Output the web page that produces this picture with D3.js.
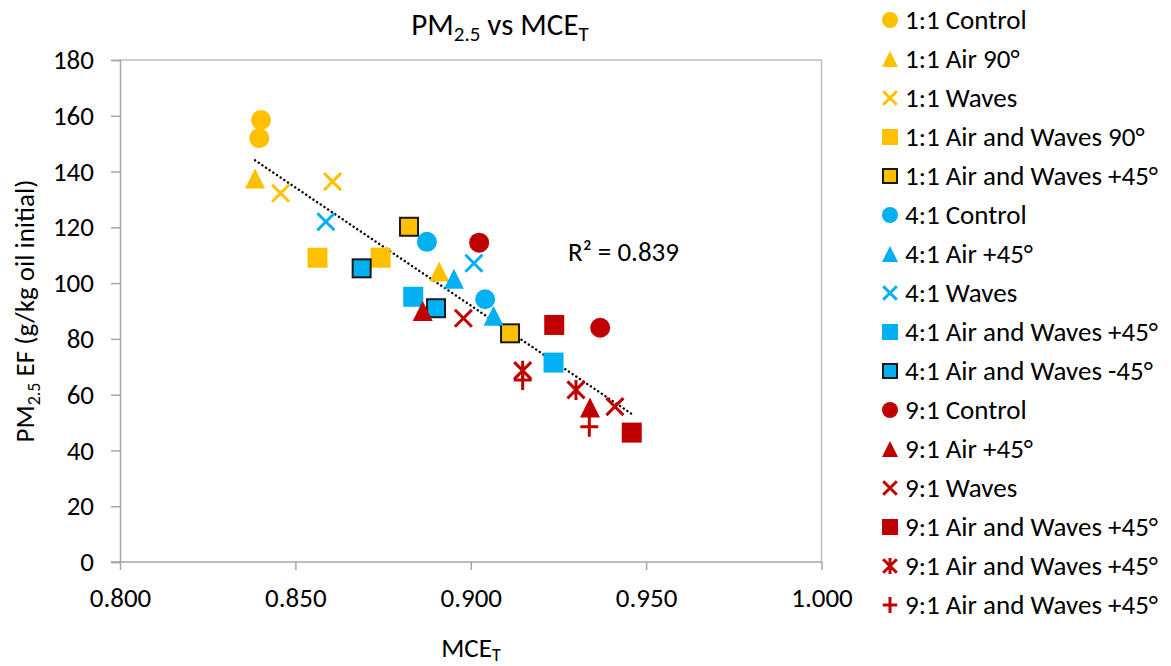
<!DOCTYPE html>
<html>
<head>
<meta charset="utf-8">
<script src="https://cdn.jsdelivr.net/npm/d3@7"></script>
<style>
  body { margin: 0; background: #fff; }
  text { font-family: Carlito, Lato, "Liberation Sans", sans-serif; fill: #000; }
</style>
</head>
<body>
<svg id="chart" width="1171" height="666"></svg>
<script>
// --- data ---
const seriesNames = [
  "1:1 Control", "1:1 Air 90°", "1:1 Waves", "1:1 Air and Waves 90°", "1:1 Air and Waves +45°",
  "4:1 Control", "4:1 Air +45°", "4:1 Waves", "4:1 Air and Waves +45°", "4:1 Air and Waves -45°",
  "9:1 Control", "9:1 Air +45°", "9:1 Waves", "9:1 Air and Waves +45°", "9:1 Air and Waves +45°",
  "9:1 Air and Waves +45°"
];
const mceValues = [
  [0.8402, 0.8397], [0.8385, 0.8910], [0.8458, 0.8606], [0.8563, 0.8743], [0.8824, 0.9112],
  [0.8875, 0.9041], [0.8952, 0.9065], [0.8587, 0.9009], [0.8836, 0.9236], [0.8689, 0.8901],
  [0.9024, 0.9369], [0.8863, 0.9340], [0.8979, 0.9411], [0.9238, 0.9459], [0.9148, 0.9300],
  [0.9148, 0.9338]
];
const pmValues = [
  [158.5, 152.0], [137.5, 104.2], [132.2, 136.4], [109.1, 109.1], [120.2, 82.0],
  [114.8, 94.2], [101.6, 88.3], [122.0, 107.1], [95.1, 71.5], [105.3, 91.0],
  [114.5, 84.0], [90.0, 55.4], [87.4, 55.7], [85.0, 46.4], [68.6, 61.7],
  [65.3, 48.5]
];
const xTicks = [0.8, 0.85, 0.9, 0.95, 1.0];
const yTicks = [0, 20, 40, 60, 80, 100, 120, 140, 160, 180];
const rSquaredLabel = "R² = 0.839";

// --- marker styles ---
const orange = "#FFC000", blue = "#00B0F0", red = "#C00000";
const markerColors = [orange, orange, orange, orange, orange, blue, blue, blue, blue, blue,
  red, red, red, red, red, red];
const markerShapes = ["circle", "triangle", "x", "square", "squareB", "circle", "triangle", "x",
  "square", "squareB", "circle", "triangle", "x", "square", "asterisk", "plus"];

const fs = 27, subFs = 18;
const svg = d3.select("#chart");

const x = d3.scaleLinear().domain([0.8, 1.0]).range([120, 821.5]);
const y = d3.scaleLinear().domain([0, 180]).range([562, 60]);

// draw one marker of given shape at (cx, cy), s = full size in px
function drawMarker(g, shape, color, cx, cy, s) {
  const h = s / 2;
  const m = g.append("g").attr("transform", `translate(${cx},${cy})`);
  if (shape === "circle") {
    m.append("circle").attr("r", h).attr("fill", color);
  } else if (shape === "square") {
    m.append("rect").attr("x", -h).attr("y", -h).attr("width", s).attr("height", s).attr("fill", color);
  } else if (shape === "squareB") {
    m.append("rect").attr("x", -h + 1).attr("y", -h + 1).attr("width", s - 2).attr("height", s - 2)
      .attr("fill", color).attr("stroke", "#1a1a1a").attr("stroke-width", 2);
  } else if (shape === "triangle") {
    m.append("path").attr("d", `M0,${-h}L${h},${h}L${-h},${h}Z`).attr("fill", color);
  } else {
    const a = h * 0.85;
    let d = "";
    if (shape === "x" || shape === "asterisk") d += `M${-a},${-a}L${a},${a}M${-a},${a}L${a},${-a}`;
    if (shape === "asterisk" || shape === "plus") d += `M0,${-h}L0,${h}`;
    if (shape === "plus") d += `M${-h * 0.9},0L${h * 0.9},0`;
    m.append("path").attr("d", d).attr("fill", "none").attr("stroke", color).attr("stroke-width", 3);
  }
}

// plot frame (top and right border)
svg.append("path")
  .attr("d", `M${x(0.8)},${y(180)}H${x(1.0)}V${y(0)}`)
  .attr("fill", "none").attr("stroke", "#bfbfbf").attr("stroke-width", 1.5);

// axes
const xAxis = svg.append("g").attr("transform", `translate(0,${y(0)})`)
  .call(d3.axisBottom(x).tickValues(xTicks).tickFormat(d3.format(".3f")).tickSizeOuter(0).tickSize(8).tickPadding(19));
const yAxis = svg.append("g").attr("transform", `translate(${x(0.8)},0)`)
  .call(d3.axisLeft(y).tickValues(yTicks).tickSizeOuter(0).tickSize(9).tickPadding(17));
[xAxis, yAxis].forEach(a => {
  a.select(".domain").attr("stroke", "#a6a6a6").attr("stroke-width", 1.5);
  a.selectAll(".tick line").attr("stroke", "#a6a6a6").attr("stroke-width", 1.5);
  a.selectAll(".tick text").attr("font-size", fs).attr("font-family", null).attr("fill", "#000");
});
xAxis.select(".domain").attr("d", `M${x(0.8) - 9},0H${x(1.0)}`);
xAxis.selectAll(".tick text").attr("dy", "0.68em");

// trendline (least squares over all points)
const allPts = [];
mceValues.forEach((xs, i) => xs.forEach((v, j) => allPts.push([v, pmValues[i][j]])));
const mx = d3.mean(allPts, p => p[0]), my = d3.mean(allPts, p => p[1]);
const slope = d3.sum(allPts, p => (p[0] - mx) * (p[1] - my)) / d3.sum(allPts, p => (p[0] - mx) ** 2);
const icpt = my - slope * mx;
const [x0, x1] = d3.extent(allPts, p => p[0]);
svg.append("line")
  .attr("x1", x(x0)).attr("y1", y(icpt + slope * x0))
  .attr("x2", x(x1)).attr("y2", y(icpt + slope * x1))
  .attr("stroke", "#000").attr("stroke-width", 2.4)
  .attr("stroke-linecap", "round").attr("stroke-dasharray", "0.1 4.3");

// markers
const plot = svg.append("g");
seriesNames.forEach((name, i) => {
  mceValues[i].forEach((v, j) => {
    drawMarker(plot, markerShapes[i], markerColors[i], x(v), y(pmValues[i][j]), 20);
  });
});

// R² label
svg.append("text").attr("x", 568).attr("y", 261).attr("font-size", fs).text(rSquaredLabel);

// title
const title = svg.append("text").attr("x", 500).attr("y", 35).attr("text-anchor", "middle").attr("font-size", 31);
title.append("tspan").text("PM");
title.append("tspan").attr("font-size", 21).attr("dy", 6).text("2.5");
title.append("tspan").attr("dy", -6).text(" vs MCE");
title.append("tspan").attr("font-size", 21).attr("dy", 6).text("T");

// x axis title
const xt = svg.append("text").attr("x", 471).attr("y", 657).attr("text-anchor", "middle").attr("font-size", fs);
xt.append("tspan").text("MCE");
xt.append("tspan").attr("font-size", subFs).attr("dy", 4).text("T");

// y axis title
const yt = svg.append("text").attr("transform", `translate(34,${(y(0) + y(180)) / 2}) rotate(-90)`)
  .attr("text-anchor", "middle").attr("font-size", fs);
yt.append("tspan").text("PM");
yt.append("tspan").attr("font-size", subFs).attr("dy", 6).text("2.5");
yt.append("tspan").attr("dy", -6).text(" EF (g/kg oil initial)");

// legend
const legend = svg.append("g");
seriesNames.forEach((name, i) => {
  const cy = 20 + i * 39;
  drawMarker(legend, markerShapes[i], markerColors[i], 890, cy, 16);
  legend.append("text").attr("x", 905).attr("y", cy + 8.5).attr("font-size", fs).text(name);
});
</script>
</body>
</html>
